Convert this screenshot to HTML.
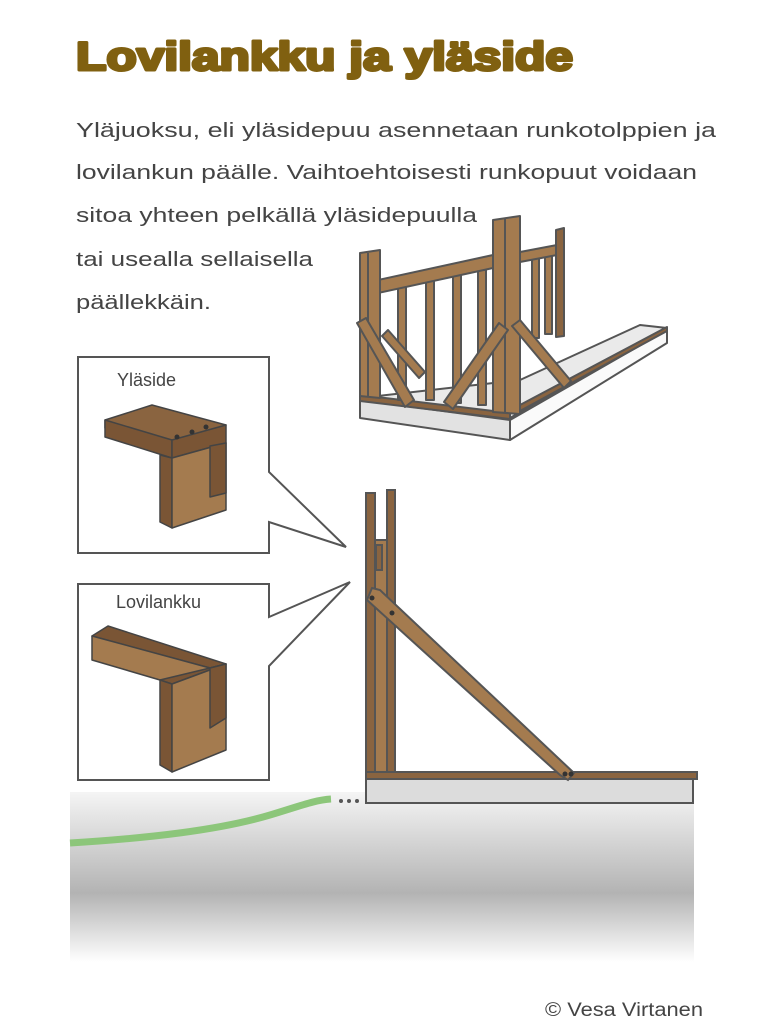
<!DOCTYPE html>
<html><head><meta charset="utf-8"><style>
html,body{margin:0;padding:0;background:#fff;}
svg{display:block;}
</style></head><body>
<svg width="768" height="1024" viewBox="0 0 768 1024" xmlns="http://www.w3.org/2000/svg">
<defs>
<linearGradient id="g" x1="0" y1="0" x2="0" y2="1">
<stop offset="0" stop-color="#f6f6f6"/>
<stop offset="0.6" stop-color="#b3b3b3"/>
<stop offset="1" stop-color="#ffffff"/>
</linearGradient>
</defs>
<rect x="0" y="0" width="768" height="1024" fill="#fff"/>
<text x="76" y="70" font-family="Liberation Sans, sans-serif" font-weight="bold" font-size="40" fill="#806010" textLength="497" lengthAdjust="spacingAndGlyphs" stroke="#806010" stroke-width="3" stroke-linejoin="round">Lovilankku ja yläside</text>
<g font-family="Liberation Sans, sans-serif" font-size="20" fill="#444">
<text x="76" y="137" textLength="640" lengthAdjust="spacingAndGlyphs">Yläjuoksu, eli yläsidepuu asennetaan runkotolppien ja</text>
<text x="76" y="179" textLength="621" lengthAdjust="spacingAndGlyphs">lovilankun päälle. Vaihtoehtoisesti runkopuut voidaan</text>
<text x="76" y="222" textLength="401" lengthAdjust="spacingAndGlyphs">sitoa yhteen pelkällä yläsidepuulla</text>
<text x="76" y="266" textLength="237" lengthAdjust="spacingAndGlyphs">tai usealla sellaisella</text>
<text x="76" y="309" textLength="135" lengthAdjust="spacingAndGlyphs">päällekkäin.</text>
</g>

<!-- ground -->
<rect x="70" y="790" width="624" height="172" fill="url(#g)"/>
<rect x="70" y="780" width="300" height="12" fill="#fff"/>
<path d="M70,843 C150,838 220,830 270,815 C300,806 315,800 331,799" fill="none" stroke="#8cc67a" stroke-width="7"/>
<circle cx="341" cy="801" r="2" fill="#555"/><circle cx="349" cy="801" r="2" fill="#555"/><circle cx="357" cy="801" r="2" fill="#555"/>

<!-- callout boxes -->
<polygon points="78,357 269,357 269,472 346,547 269,522 269,553 78,553" fill="#fff" stroke="#555" stroke-width="2"/>
<polygon points="78,584 269,584 269,617 350,582 269,666 269,780 78,780" fill="#fff" stroke="#555" stroke-width="2"/>
<g font-family="Liberation Sans, sans-serif" font-size="18" fill="#444">
<text x="117" y="386">Yläside</text>
<text x="116" y="608">Lovilankku</text>
</g>
<!-- yläside piece -->
<g stroke="#444" stroke-width="1.5" stroke-linejoin="round">
<polygon points="105,420 152,405 226,425 172,447 105,428" fill="#8a6440"/>
<polygon points="105,420 172,440 172,458 105,437" fill="#7a5535"/>
<polygon points="172,440 226,425 226,443 172,458" fill="#7a5535"/>
<polygon points="160,455 172,458 172,528 160,522" fill="#7a5535"/>
<polygon points="172,458 226,443 226,510 172,528" fill="#a47b4f"/>
<polygon points="210,446 226,443 226,493 210,497" fill="#7a5535"/>
</g>
<circle cx="177" cy="437" r="2.5" fill="#333"/><circle cx="192" cy="432" r="2.5" fill="#333"/><circle cx="206" cy="427" r="2.5" fill="#333"/>
<!-- lovilankku piece -->
<g stroke="#444" stroke-width="1.5" stroke-linejoin="round">
<polygon points="92,636 108,626 226,664 210,668" fill="#7a5535"/>
<polygon points="92,636 210,668 210,675 160,680 92,660" fill="#a47b4f"/>
<polygon points="160,680 210,668 226,664 172,684" fill="#7a5535"/>
<polygon points="160,680 172,684 172,772 160,765" fill="#7a5535"/>
<polygon points="172,684 226,664 226,750 172,772" fill="#a47b4f"/>
<polygon points="210,668 226,664 226,718 210,728" fill="#7a5535"/>
</g>

<!-- wall section -->
<g stroke="#555" stroke-width="2">
<rect x="366" y="779" width="327" height="24" fill="#dcdcdc"/>
<rect x="375" y="540" width="12" height="235" fill="#a47b4f"/>
<rect x="366" y="493" width="9" height="282" fill="#8a6440"/>
<rect x="387" y="490" width="8" height="285" fill="#8a6440"/>
<rect x="376" y="545" width="6" height="25" fill="#8a6440"/>
<rect x="366" y="772" width="331" height="7" fill="#8a6440"/>
<polygon points="372,588 380,590 574,773 568,780 560,775 367,600" fill="#a47b4f"/>
</g>
<circle cx="372" cy="598" r="2.5" fill="#333"/><circle cx="392" cy="613" r="2.5" fill="#333"/>
<circle cx="565" cy="774" r="2.5" fill="#333"/><circle cx="571" cy="774" r="2.5" fill="#333"/>

<!-- 3D frame -->
<g stroke="#555" stroke-width="2" stroke-linejoin="round">
<polygon points="360,398 510,418 667,328 640,325 520,380" fill="#eaeaea"/>
<polygon points="360,400 510,420 510,440 360,418" fill="#e2e2e2"/>
<polygon points="510,420 667,330 667,343 510,440" fill="#fafafa"/>
<polygon points="520,405 667,327 667,331 520,411" fill="#8a6440"/>
<polygon points="360,395 510,413 510,419 360,401" fill="#8a6440"/>
<rect x="398" y="285" width="8" height="115" fill="#a47b4f"/>
<rect x="426" y="280" width="8" height="120" fill="#a47b4f"/>
<rect x="453" y="275" width="8" height="128" fill="#a47b4f"/>
<rect x="478" y="270" width="8" height="135" fill="#a47b4f"/>
<rect x="532" y="258" width="7" height="80" fill="#a47b4f"/>
<rect x="545" y="256" width="7" height="78" fill="#a47b4f"/>
<polygon points="378,280 493,255 493,268 378,293" fill="#a47b4f"/>
<polygon points="520,252 557,245 557,255 520,262" fill="#a47b4f"/>
<polygon points="360,253 380,250 380,398 360,396" fill="#a47b4f"/>
<line x1="368" y1="253" x2="368" y2="396"/>
<polygon points="493,220 520,216 520,414 493,412" fill="#a47b4f"/>
<line x1="505" y1="218" x2="505" y2="413"/>
<polygon points="556,230 564,228 564,336 556,337" fill="#8a6440"/>
<polygon points="382,336 388,330 425,372 419,378" fill="#a47b4f"/>
<polygon points="357,323 366,318 414,400 405,407" fill="#a47b4f"/>
<polygon points="444,402 499,323 508,330 453,409" fill="#a47b4f"/>
<polygon points="512,326 520,320 571,381 564,388" fill="#a47b4f"/>
</g>

<text x="545" y="1016" font-family="Liberation Sans, sans-serif" font-size="19" fill="#444" textLength="158" lengthAdjust="spacingAndGlyphs">© Vesa Virtanen</text>
</svg>
</body></html>
